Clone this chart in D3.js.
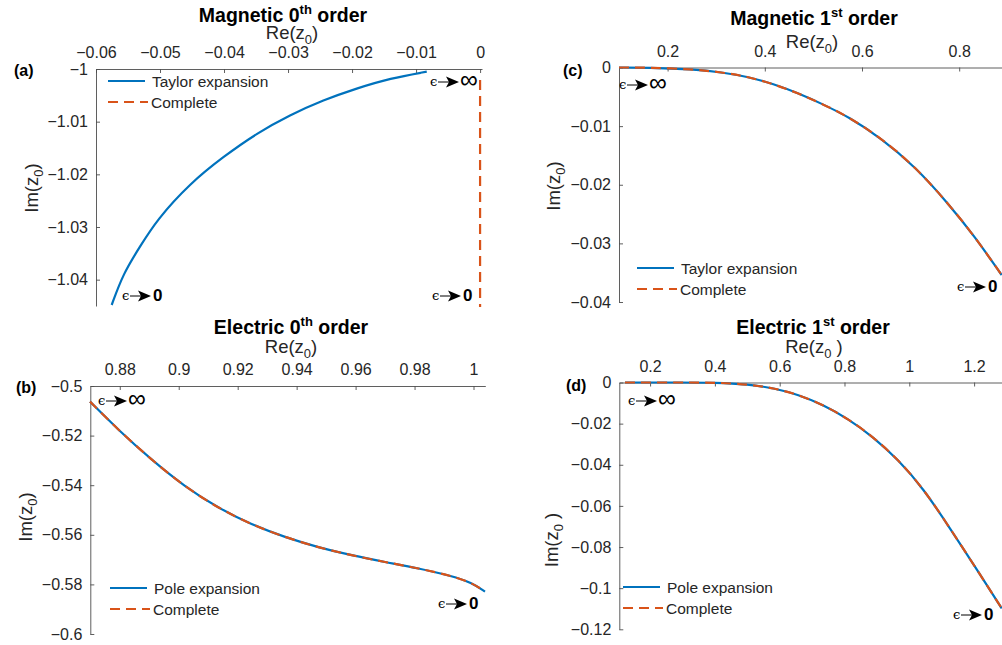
<!DOCTYPE html>
<html><head><meta charset="utf-8">
<script src="https://cdn.jsdelivr.net/npm/d3@7"></script>
<style>
html,body{margin:0;padding:0;background:#fff;}
svg{display:block;font-family:"Liberation Sans",Arial,Helvetica,sans-serif;}
</style></head>
<body><svg id="chart" width="1002" height="645"></svg>
<script>
// ---------- DATA ----------
// (a) Magnetic 0th order
const magOTaylorRe = [-0.00833,-0.01406,-0.01927,-0.02448,-0.02969,-0.03490,-0.04010,-0.04531,-0.05052,-0.05313,-0.05573,-0.05755];
const magOTaylorIm = [-1.00051,-1.00177,-1.00367,-1.00589,-1.00873,-1.01221,-1.01665,-1.02171,-1.02867,-1.03373,-1.03879,-1.04481];
const magOCompleteRe = [0.0000, 0.0000];
const magOCompleteIm = [-1.0021,-1.0452];
const magOXTicks = [-0.06,-0.05,-0.04,-0.03,-0.02,-0.01,0];
const magOXLabels = ["\u22120.06","\u22120.05","\u22120.04","\u22120.03","\u22120.02","\u22120.01","0"];
const magOYTicks = [-1,-1.01,-1.02,-1.03,-1.04];
const magOYLabels = ["\u22121","\u22121.01","\u22121.02","\u22121.03","\u22121.04"];

// (b) Electric 0th order
const eleORe = [0.8699,0.8795,0.8908,0.9021,0.9134,0.9247,0.9361,0.9474,0.9587,0.9700,0.9813,0.9926,0.9994,1.0039];
const eleOIm = [-0.5063,-0.5177,-0.5298,-0.5406,-0.5492,-0.5559,-0.5610,-0.5651,-0.5683,-0.5710,-0.5735,-0.5766,-0.5793,-0.5829];
const eleOXTicks = [0.88,0.9,0.92,0.94,0.96,0.98,1];
const eleOXLabels = ["0.88","0.9","0.92","0.94","0.96","0.98","1"];
const eleOYTicks = [-0.5,-0.52,-0.54,-0.56,-0.58,-0.6];
const eleOYLabels = ["\u22120.5","\u22120.52","\u22120.54","\u22120.56","\u22120.58","\u22120.6"];

// (c) Magnetic 1st order
const mag1Re = [0.1000,0.1604,0.2495,0.3113,0.3661,0.4176,0.4690,0.5204,0.5719,0.6405,0.7091,0.7776,0.8325,0.8874];
const mag1Im = [0.0000,0.0000,-0.0003,-0.0008,-0.0016,-0.0028,-0.0044,-0.0063,-0.0084,-0.0121,-0.0169,-0.0232,-0.0289,-0.0354];
const mag1XTicks = [0.2,0.4,0.6,0.8];
const mag1XLabels = ["0.2","0.4","0.6","0.8"];
const mag1YTicks = [0,-0.01,-0.02,-0.03,-0.04];
const mag1YLabels = ["0","\u22120.01","\u22120.02","\u22120.03","\u22120.04"];

// (d) Electric 1st order
const ele1Re = [0.1226,0.2975,0.4004,0.5032,0.5804,0.6576,0.7347,0.8119,0.8890,0.9662,1.0434,1.1205,1.2234,1.2852];
const ele1Im = [0.0000,0.0000,0.0000,-0.0009,-0.0027,-0.0059,-0.0109,-0.0177,-0.0265,-0.0376,-0.0516,-0.0696,-0.0946,-0.1098];
const ele1XTicks = [0.2,0.4,0.6,0.8,1,1.2];
const ele1XLabels = ["0.2","0.4","0.6","0.8","1","1.2"];
const ele1YTicks = [0,-0.02,-0.04,-0.06,-0.08,-0.1,-0.12];
const ele1YLabels = ["0","\u22120.02","\u22120.04","\u22120.06","\u22120.08","\u22120.1","\u22120.12"];

// ---------- STYLE ----------
const BLUE = "#0072BD", ORANGE = "#D95319", TXT = "#262626", AX = "#4d4d4d";
const DASH = "10,6";
const zip = (a,b)=>a.map((v,i)=>({x:v,y:b[i]}));

const panels = [
  {id:"a", title:["Magnetic 0","th"," order"], tx:283, ty:22, lx:292, ly:39, lsp:"",
   xd:[-0.06,0.0003], xr:[96,482], yd:[-1.045,-1], yr:[306,69],
   xt:magOXTicks, xl:magOXLabels, yt:magOYTicks, yl:magOYLabels,
   series:[{d:zip(magOTaylorRe,magOTaylorIm),c:BLUE},{d:zip(magOCompleteRe,magOCompleteIm),c:ORANGE,dash:true}],
   leg:{x:108,y:81,names:["Taylor expansion","Complete"]}, tag:{x:14,y:76},
   ylab:{x:38,y:188,sp:""},
   ann:[{x:430,y:87,t:"inf"},{x:122,y:301,t:"0"},{x:432,y:301,t:"0"}]},
  {id:"c", title:["Magnetic 1","st"," order"], tx:814, ty:25, lx:812, ly:48, lsp:"",
   xd:[0.1,0.9], xr:[619,1007.8], yd:[-0.04,0], yr:[302,67.5],
   xt:mag1XTicks, xl:mag1XLabels, yt:mag1YTicks, yl:mag1YLabels,
   series:[{d:zip(mag1Re,mag1Im),c:BLUE},{d:zip(mag1Re,mag1Im),c:ORANGE,dash:true}],
   leg:{x:637,y:268,names:["Taylor expansion","Complete"]}, tag:{x:563,y:76},
   ylab:{x:560,y:186,sp:""},
   ann:[{x:619,y:90,t:"inf"},{x:957,y:292,t:"0"}]},
  {id:"b", title:["Electric 0","th"," order"], tx:291, ty:334, lx:291, ly:353, lsp:"",
   xd:[0.87,1.004], xr:[90.3,485.3], yd:[-0.6,-0.5], yr:[634,386],
   xt:eleOXTicks, xl:eleOXLabels, yt:eleOYTicks, yl:eleOYLabels,
   series:[{d:zip(eleORe,eleOIm),c:BLUE},{d:zip(eleORe,eleOIm),c:ORANGE,dash:true}],
   leg:{x:110,y:588,names:["Pole expansion","Complete"]}, tag:{x:16,y:393},
   ylab:{x:32,y:517,sp:""},
   ann:[{x:98,y:406,t:"inf"},{x:438,y:609,t:"0"}]},
  {id:"d", title:["Electric 1","st"," order"], tx:813, ty:334, lx:814, ly:353, lsp:" ",
   xd:[0.105,1.3], xr:[619.3,1006.5], yd:[-0.12,0], yr:[629.3,382.5],
   xt:ele1XTicks, xl:ele1XLabels, yt:ele1YTicks, yl:ele1YLabels,
   series:[{d:zip(ele1Re,ele1Im),c:BLUE},{d:zip(ele1Re,ele1Im),c:ORANGE,dash:true}],
   leg:{x:623,y:587,names:["Pole expansion","Complete"]}, tag:{x:566,y:391},
   ylab:{x:558,y:540,sp:" "},
   ann:[{x:628,y:406,t:"inf"},{x:953,y:620,t:"0"}]}
];

const svg = d3.select("#chart");
const defs = svg.append("defs");

function arrowAnn(g, x, y, target){
  const a = g.append("g").attr("transform",`translate(${x},${y})`);
  a.append("text").attr("x",0).attr("y",-1).attr("font-family","DejaVu Serif, serif")
    .attr("font-size",13).attr("fill","#000").text("\u03F5");
  a.append("line").attr("x1",8).attr("x2",19).attr("y1",-5).attr("y2",-5)
    .attr("stroke","#000").attr("stroke-width",1);
  a.append("path").attr("d","M16,-10.5 L29,-5 L16,0.5 L19,-5 Z").attr("fill","#000");
  if(target==="inf"){
    a.append("text").attr("x",30).attr("y",1).attr("font-family","Liberation Sans, Arial, sans-serif")
      .attr("font-size",25).attr("fill","#000").text("\u221E");
  } else {
    a.append("text").attr("x",31).attr("y",0).attr("font-weight","bold")
      .attr("font-size",17).attr("fill","#000").text("0");
  }
}

panels.forEach(p=>{
  const x = d3.scaleLinear().domain(p.xd).range(p.xr);
  const y = d3.scaleLinear().domain(p.yd).range(p.yr);
  const g = svg.append("g");

  defs.append("clipPath").attr("id","clip-"+p.id).append("rect")
    .attr("x",p.xr[0]-2).attr("y",p.yr[1]-2)
    .attr("width",p.xr[1]-p.xr[0]+4).attr("height",p.yr[0]-p.yr[1]+4);

  const xa = d3.axisTop(x).tickValues(p.xt).tickFormat((d,i)=>p.xl[i])
    .tickSizeInner(-4).tickSizeOuter(0).tickPadding(11);
  const ya = d3.axisLeft(y).tickValues(p.yt).tickFormat((d,i)=>p.yl[i])
    .tickSizeInner(-4).tickSizeOuter(0).tickPadding(8);
  const gx = g.append("g").attr("transform",`translate(0,${p.yr[1]})`).call(xa);
  const gy = g.append("g").attr("transform",`translate(${p.xr[0]},0)`).call(ya);
  [gx,gy].forEach(a=>{
    a.attr("font-family",null).attr("font-size",null);
    a.selectAll("path,line").attr("stroke",AX).attr("stroke-width",0.9);
    a.selectAll("text").attr("fill",TXT).attr("font-size",16);
  });
  gx.selectAll("text").attr("dy","0em");

  const lineGen = d3.line().x(d=>x(d.x)).y(d=>y(d.y)).curve(d3.curveBasis);
  const plot = g.append("g").attr("clip-path",`url(#clip-${p.id})`);
  p.series.forEach(s=>{
    plot.append("path").attr("d",lineGen(s.d))
      .attr("fill","none").attr("stroke",s.c).attr("stroke-width",2.2)
      .attr("stroke-dasharray",s.dash?DASH:null);
  });

  const t = g.append("text").attr("x",p.tx).attr("y",p.ty).attr("text-anchor","middle")
    .attr("font-size",19.5).attr("font-weight","bold").attr("fill","#000");
  t.append("tspan").text(p.title[0]);
  t.append("tspan").attr("font-size",13).attr("dy",-8).text(p.title[1]);
  t.append("tspan").attr("dy",8).text(p.title[2]);

  const xl = g.append("text").attr("x",p.lx).attr("y",p.ly).attr("text-anchor","middle")
    .attr("font-size",18.5).attr("fill",TXT);
  xl.append("tspan").text("Re(z");
  xl.append("tspan").attr("font-size",13).attr("dy",5).text("0");
  xl.append("tspan").attr("dy",-5).text(p.lsp+")");

  const yl = g.append("text").attr("transform",`translate(${p.ylab.x},${p.ylab.y}) rotate(-90)`)
    .attr("text-anchor","middle").attr("font-size",18.5).attr("fill",TXT);
  yl.append("tspan").text("Im(z");
  yl.append("tspan").attr("font-size",13).attr("dy",5).text("0");
  yl.append("tspan").attr("dy",-5).text(p.ylab.sp+")");

  g.append("text").attr("x",p.tag.x).attr("y",p.tag.y).attr("font-size",16)
    .attr("font-weight","bold").attr("fill","#000").text("("+p.id+")");

  const L = p.leg;
  g.append("line").attr("x1",L.x).attr("x2",L.x+37).attr("y1",L.y).attr("y2",L.y)
    .attr("stroke",BLUE).attr("stroke-width",2.2);
  g.append("line").attr("x1",L.x).attr("x2",L.x+40).attr("y1",L.y+21).attr("y2",L.y+21)
    .attr("stroke",ORANGE).attr("stroke-width",2.2).attr("stroke-dasharray",DASH);
  g.append("text").attr("x",L.x+44).attr("y",L.y+6).attr("font-size",15.5).attr("fill",TXT).text(L.names[0]);
  g.append("text").attr("x",L.x+43).attr("y",L.y+27).attr("font-size",15.5).attr("fill",TXT).text(L.names[1]);

  p.ann.forEach(a=>arrowAnn(g,a.x,a.y,a.t));
});
</script></body></html>
